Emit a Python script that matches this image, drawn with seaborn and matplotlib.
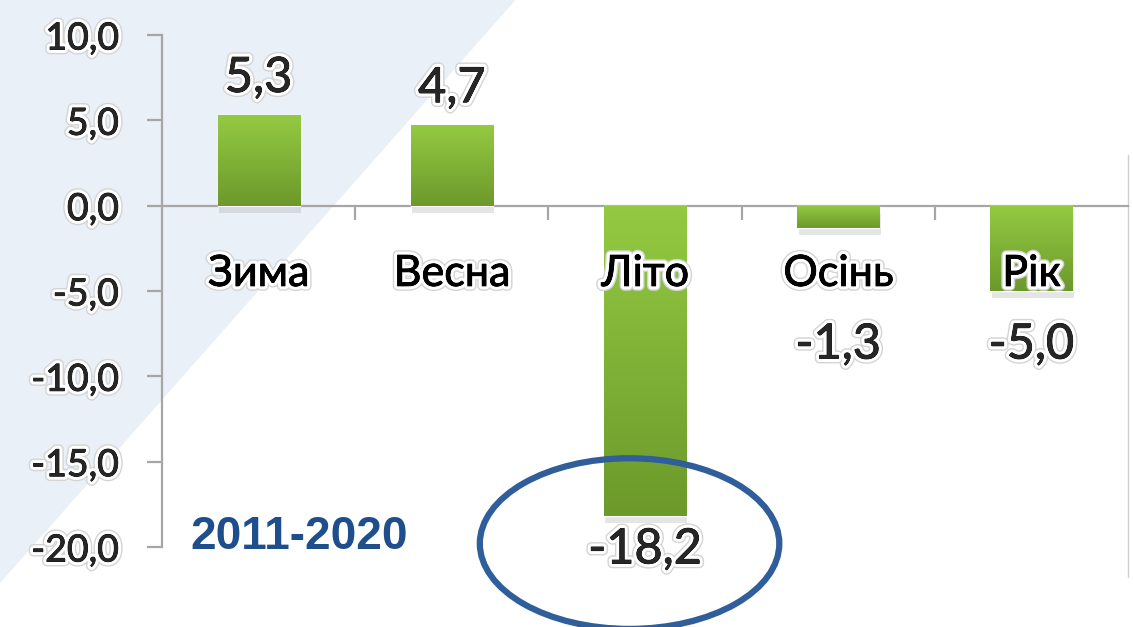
import matplotlib
matplotlib.use("Agg")
import matplotlib.pyplot as plt
import matplotlib.patheffects as pe
import numpy as np
import pandas as pd
import seaborn as sns
from matplotlib.colors import LinearSegmentedColormap
from matplotlib.lines import Line2D
from matplotlib.patches import Ellipse, Polygon
from matplotlib.ticker import FuncFormatter

# data
seasons = ["Зима", "Весна", "Літо", "Осінь", "Рік"]
changes = [5.3, 4.7, -18.2, -1.3, -5.0]
y_ticks = [-20, -15, -10, -5, 0, 5, 10]
period = "2011-2020"
highlight = "Літо"


def comma(v, pos=None):
    return f"{v:.1f}".replace(".", ",")


sns.set_theme(style="white")
plt.rcParams["font.family"] = ["Lato", "Noto Sans", "DejaVu Sans"]

df = pd.DataFrame({"season": seasons, "change": changes})
halo = [
    pe.withStroke(linewidth=7, foreground="#D4D4D4"),
    pe.withStroke(linewidth=5, foreground="white"),
    pe.withStroke(linewidth=0.6, foreground="black"),
    pe.Normal(),
]
axis_grey = "#A6A6A6"

fig = plt.figure(figsize=(11.33, 6.27), dpi=100)
fig.patch.set_facecolor("white")
# pale background wedge in the top-left corner
fig.patches.append(
    Polygon([(0, 1), (0.455, 1), (0, 0.07)], closed=True,
            transform=fig.transFigure, facecolor="#EAF0F8",
            edgecolor="none", zorder=-5)
)
fig.add_artist(Line2D([0.9956, 0.9956], [1 - 155 / 627, 1 - 577 / 627],
                      transform=fig.transFigure, color="#D0D0D0", lw=1,
                      zorder=-5))

ax = fig.add_axes([0.143, 0.1276, 0.8526, 0.8166])
ax.patch.set_alpha(0)
sns.barplot(data=df, x="season", y="change", color="#80B53A",
            width=0.425, saturation=1, ax=ax, zorder=2)

# vertical green gradient inside each bar, soft shadow underneath
grad = np.linspace(0, 1, 256).reshape(-1, 1)
cmap = LinearSegmentedColormap.from_list("bar", ["#94CA42", "#6C992B"])
for bar in list(ax.patches):
    bar.set_path_effects([
        pe.SimplePatchShadow(offset=(1, -5), shadow_rgbFace="#9A9A9A", alpha=0.25),
        pe.Normal(),
    ])
    x0, y0 = bar.get_x(), bar.get_y()
    w, h = bar.get_width(), bar.get_height()
    im = ax.imshow(grad, extent=(x0, x0 + w, min(y0, y0 + h), max(y0, y0 + h)),
                   origin="upper", cmap=cmap, aspect="auto", zorder=2.5)
    im.set_clip_path(bar)

ax.set_xlim(-0.5, len(seasons) - 0.5)
ax.set_ylim(min(y_ticks), max(y_ticks))
ax.set_xlabel("")
ax.set_ylabel("")

for side in ["top", "right"]:
    ax.spines[side].set_visible(False)
ax.spines["bottom"].set_position(("data", 0))
for side in ["left", "bottom"]:
    ax.spines[side].set_color(axis_grey)
    ax.spines[side].set_linewidth(1.6)
    ax.spines[side].set_zorder(1)

ax.set_yticks(y_ticks)
ax.yaxis.set_major_formatter(FuncFormatter(comma))
ax.tick_params(axis="y", labelsize=27, length=11, width=1.6,
               color=axis_grey, pad=20, direction="out", left=True)
ax.set_xticks(np.arange(len(seasons) - 1) + 0.5, minor=True)
ax.tick_params(axis="x", which="major", length=0, labelbottom=False)
ax.tick_params(axis="x", which="minor", length=10, width=1.6,
               color=axis_grey, direction="out", bottom=True)
for lbl in ax.get_yticklabels():
    lbl.set_path_effects(halo)

# category names just under the zero line
for i, s in enumerate(seasons):
    ax.text(i, -4.0, s, ha="center", va="center", fontsize=31,
            color="black", path_effects=halo, zorder=5)

# value labels
label_floor = -6.2
for i, v in enumerate(changes):
    if v >= 0:
        ax.annotate(comma(v), (i, v), xytext=(0, 11), textcoords="offset points",
                    ha="center", va="bottom", fontsize=35, path_effects=halo,
                    zorder=5)
    else:
        ax.annotate(comma(v), (i, min(v, label_floor)), xytext=(0, -8),
                    textcoords="offset points", ha="center", va="top",
                    fontsize=35, path_effects=halo, zorder=5)

# ring around the highlighted season's value
k = seasons.index(highlight)
ax.add_patch(Ellipse((k - 0.08, changes[k] - 1.6), 1.55, 10.0, fill=False,
                     edgecolor="#2F5E9B", lw=4.5, zorder=6, clip_on=False))

ax.text(0.029, 0.02, period, transform=ax.transAxes, ha="left", va="center",
        fontsize=33, fontweight="bold", color="#1F4E8C",
        family=["Liberation Sans", "DejaVu Sans"])

fig.savefig("out.png", dpi=100)
